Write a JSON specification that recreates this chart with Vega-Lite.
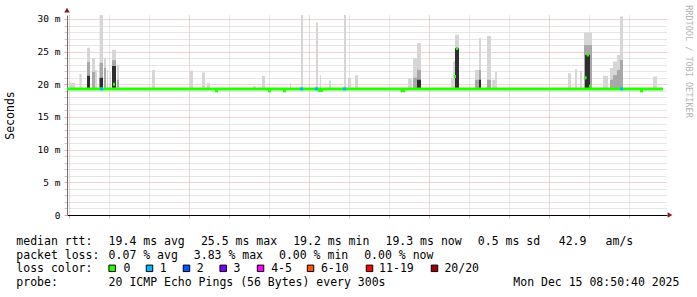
{
  "$schema": "https://vega.github.io/schema/vega-lite/v6.json",
  "autosize": {"type": "none"},
  "padding": {"left": 67, "top": 15, "right": 630, "bottom": 282},
  "background": "#ffffff",
  "config": {"view": {"stroke": null}},
  "datasets": {
    "smoke": [
      {"t0": 3.05, "t1": 3.3, "max": 20.25},
      {"t0": 3.52, "t1": 3.63, "max": 21.6},
      {"t0": 3.9, "t1": 4.05, "max": 25.6, "mid": 23.4, "dk": 21.3},
      {"t0": 4.15, "t1": 4.3, "max": 24.0, "mid": 21.9},
      {"t0": 4.3, "t1": 4.4, "max": 22.2},
      {"t0": 4.53, "t1": 4.7, "max": 31.0, "mid": 23.3, "dk": 21.0},
      {"t0": 4.75, "t1": 4.85, "max": 24.0, "mid": 22.5},
      {"t0": 4.9, "t1": 4.95, "max": 22.2},
      {"t0": 5.05, "t1": 5.1, "max": 21.9},
      {"t0": 5.15, "t1": 5.35, "max": 25.3, "mid": 23.7, "dk": 22.8},
      {"t0": 5.4, "t1": 5.5, "max": 23.0, "mid": 20.7},
      {"t0": 7.15, "t1": 7.3, "max": 22.2},
      {"t0": 9.05, "t1": 9.2, "max": 22.1},
      {"t0": 9.65, "t1": 9.8, "max": 21.8},
      {"t0": 9.9, "t1": 10.05, "max": 20.2},
      {"t0": 12.2, "t1": 12.35, "max": 19.75},
      {"t0": 12.65, "t1": 12.8, "max": 21.3},
      {"t0": 14.05, "t1": 14.1, "max": 20.2},
      {"t0": 14.6, "t1": 14.7, "max": 31.0},
      {"t0": 15.35, "t1": 15.45, "max": 29.5},
      {"t0": 15.55, "t1": 15.6, "max": 21.4},
      {"t0": 16.0, "t1": 16.1, "max": 20.6},
      {"t0": 16.75, "t1": 16.85, "max": 30.6},
      {"t0": 16.95, "t1": 17.1, "max": 21.0},
      {"t0": 17.3, "t1": 17.45, "max": 21.4},
      {"t0": 19.95, "t1": 20.15, "max": 20.9},
      {"t0": 20.2, "t1": 20.4, "max": 24.0, "mid": 21.0},
      {"t0": 20.4, "t1": 20.6, "max": 26.3, "mid": 22.2, "dk": 20.7},
      {"t0": 22.1, "t1": 22.2, "max": 21.0},
      {"t0": 22.2, "t1": 22.3, "max": 23.5},
      {"t0": 22.3, "t1": 22.5, "max": 27.6, "mid": 25.5, "dk": 25.5},
      {"t0": 23.3, "t1": 23.5, "max": 22.2, "mid": 20.7},
      {"t0": 23.5, "t1": 23.6, "max": 27.1, "mid": 22.2, "dk": 20.7},
      {"t0": 23.9, "t1": 24.1, "max": 27.4, "mid": 20.7},
      {"t0": 24.15, "t1": 24.3, "max": 20.7},
      {"t0": 24.3, "t1": 24.4, "max": 21.9},
      {"t0": 27.95, "t1": 28.1, "max": 21.7},
      {"t0": 28.3, "t1": 28.4, "max": 22.3},
      {"t0": 28.55, "t1": 28.65, "max": 22.1},
      {"t0": 28.75, "t1": 29.15, "max": 27.9, "mid": 26.0},
      {"t0": 28.8, "t1": 29.05, "max": 24.5, "dk": 24.5},
      {"t0": 29.7, "t1": 29.95, "max": 21.3},
      {"t0": 30.05, "t1": 30.2, "max": 22.5, "mid": 20.7},
      {"t0": 30.2, "t1": 30.4, "max": 23.5, "mid": 21.4},
      {"t0": 30.4, "t1": 30.55, "max": 24.5, "mid": 22.2},
      {"t0": 30.55, "t1": 30.7, "max": 30.4, "mid": 23.7},
      {"t0": 32.2, "t1": 32.4, "max": 21.2}
    ],
    "median": [
      {"t0": 2.9, "t1": 32.7, "m": 19.3, "loss": "0"},
      {"t0": 10.3, "t1": 10.45, "m": 19.0, "loss": "0"},
      {"t0": 12.95, "t1": 13.1, "m": 19.0, "loss": "0"},
      {"t0": 13.7, "t1": 13.85, "m": 19.0, "loss": "0"},
      {"t0": 15.45, "t1": 15.7, "m": 19.05, "loss": "0"},
      {"t0": 19.58, "t1": 19.8, "m": 19.0, "loss": "0"},
      {"t0": 31.55, "t1": 31.7, "m": 19.0, "loss": "0"},
      {"t0": 5.2, "t1": 5.3, "m": 20.0, "loss": "0"},
      {"t0": 22.25, "t1": 22.35, "m": 21.2, "loss": "0"},
      {"t0": 22.35, "t1": 22.45, "m": 25.5, "loss": "0"},
      {"t0": 28.78, "t1": 28.88, "m": 21.0, "loss": "0"},
      {"t0": 28.88, "t1": 29.0, "m": 24.5, "loss": "0"},
      {"t0": 29.0, "t1": 29.1, "m": 19.7, "loss": "0"},
      {"t0": 4.55, "t1": 4.7, "m": 19.3, "loss": "1"},
      {"t0": 14.55, "t1": 14.7, "m": 19.3, "loss": "1"},
      {"t0": 15.3, "t1": 15.45, "m": 19.3, "loss": "1"},
      {"t0": 16.7, "t1": 16.85, "m": 19.3, "loss": "1"},
      {"t0": 30.55, "t1": 30.7, "m": 19.3, "loss": "1"}
    ],
    "arrows": [
      {"t": 2.9, "v": 31.35, "dir": "up"},
      {"t": 33.05, "v": 0, "dir": "right"}
    ],
    "texts": [
      {"line": 1, "col": 0, "text": "median rtt:"},
      {"line": 1, "col": 13, "text": "19.4 ms avg"},
      {"line": 1, "col": 26, "text": "25.5 ms max"},
      {"line": 1, "col": 39, "text": "19.2 ms min"},
      {"line": 1, "col": 52, "text": "19.3 ms now"},
      {"line": 1, "col": 65, "text": "0.5 ms sd"},
      {"line": 1, "col": 76.4, "text": "42.9"},
      {"line": 1, "col": 83, "text": "am/s"},
      {"line": 2, "col": 0, "text": "packet loss:"},
      {"line": 2, "col": 13, "text": "0.07 % avg"},
      {"line": 2, "col": 25, "text": "3.83 % max"},
      {"line": 2, "col": 37, "text": "0.00 % min"},
      {"line": 2, "col": 49, "text": "0.00 % now"},
      {"line": 3, "col": 0, "text": "loss color:"},
      {"line": 3, "col": 15.1, "text": "0"},
      {"line": 3, "col": 20.2, "text": "1"},
      {"line": 3, "col": 25.4, "text": "2"},
      {"line": 3, "col": 30.6, "text": "3"},
      {"line": 3, "col": 35.9, "text": "4-5"},
      {"line": 3, "col": 42.9, "text": "6-10"},
      {"line": 3, "col": 51.1, "text": "11-19"},
      {"line": 3, "col": 60.3, "text": "20/20"},
      {"line": 4, "col": 0, "text": "probe:"},
      {"line": 4, "col": 13, "text": "20 ICMP Echo Pings (56 Bytes) every 300s"},
      {"line": 4, "col": 70, "text": "Mon Dec 15 08:50:40 2025"}
    ],
    "swatches": [
      {"line": 3, "col": 13.5, "loss": "0"},
      {"line": 3, "col": 18.76, "loss": "1"},
      {"line": 3, "col": 23.97, "loss": "2"},
      {"line": 3, "col": 29.14, "loss": "3"},
      {"line": 3, "col": 34.4, "loss": "4-5"},
      {"line": 3, "col": 41.44, "loss": "6-10"},
      {"line": 3, "col": 49.75, "loss": "11-19"},
      {"line": 3, "col": 58.9, "loss": "20/20"}
    ]
  },
  "bounds": "flush",
  "spacing": 15,
  "vconcat": [
    {
      "width": 600,
      "height": 200,
      "layer": [
        {
          "data": {"name": "smoke"},
          "mark": {"type": "rect", "color": "#d6d6d6", "clip": true},
          "encoding": {
            "x": {
              "field": "t0", "type": "quantitative",
              "scale": {"domain": [2.9, 32.9], "nice": false, "zero": false},
              "axis": {
                "values": [3,4,5,6,7,8,9,10,11,12,13,14,15,16,17,18,19,20,21,22,23,24,25,26,27,28,29,30,31,32],
                "grid": true,
                "gridDash": [1, 1],
                "gridColor": {"condition": {"test": "datum.value % 3 === 0", "value": "#e4a6a6"}, "value": "#cccccc"},
                "domainColor": "#000000",
                "tickSize": 3,
                "tickColor": {"condition": {"test": "datum.value % 3 === 0", "value": "#e4a6a6"}, "value": "#cccccc"},
                "labelExpr": "datum.value % 6 === 0 ? ((datum.value < 24 ? 'Sun ' : 'Mon ') + (datum.value % 24 < 10 ? '0' : '') + (datum.value % 24) + ':00') : ''",
                "labelFont": "DejaVu Sans Mono",
                "labelFontSize": 9.5,
                "labelColor": "#000000",
                "labelPadding": 2,
                "labelOverlap": false,
                "labelFlush": false,
                "title": null
              }
            },
            "x2": {"field": "t1"},
            "y": {
              "field": "max", "type": "quantitative",
              "scale": {"domain": [0, 30.61], "nice": false, "zero": false},
              "axis": {
                "values": [0,1,2,3,4,5,6,7,8,9,10,11,12,13,14,15,16,17,18,19,20,21,22,23,24,25,26,27,28,29,30],
                "grid": true,
                "gridDash": [1, 1],
                "gridColor": {"condition": {"test": "datum.value % 5 === 0", "value": "#e4a6a6"}, "value": "#cccccc"},
                "domainColor": "#707070",
                "tickSize": 3,
                "tickColor": {"condition": {"test": "datum.value % 5 === 0", "value": "#e4a6a6"}, "value": "#cccccc"},
                "labelExpr": "datum.value % 5 === 0 ? (datum.value === 0 ? '0' : datum.value + ' m') : ''",
                "labelFont": "DejaVu Sans Mono",
                "labelFontSize": 9.5,
                "labelColor": "#000000",
                "labelPadding": 4,
                "labelOverlap": false,
                "labelFlush": false,
                "title": "Seconds",
                "titleFont": "DejaVu Sans Mono",
                "titleFontSize": 11.5,
                "titleFontWeight": "normal",
                "titleColor": "#000000",
                "titlePadding": 22
              }
            },
            "y2": {"datum": 19.3}
          }
        },
        {
          "data": {"name": "smoke"},
          "transform": [{"filter": "isValid(datum.mid)"}],
          "mark": {"type": "rect", "color": "#a8a8a8", "clip": true},
          "encoding": {
            "x": {"field": "t0", "type": "quantitative", "scale": {"domain": [2.9, 32.9], "nice": false, "zero": false}},
            "x2": {"field": "t1"},
            "y": {"field": "mid", "type": "quantitative", "scale": {"domain": [0, 30.61], "nice": false, "zero": false}, "axis": null},
            "y2": {"datum": 19.3}
          }
        },
        {
          "data": {"name": "smoke"},
          "transform": [{"filter": "isValid(datum.dk)"}],
          "mark": {"type": "rect", "color": "#2e2e2e", "clip": true},
          "encoding": {
            "x": {"field": "t0", "type": "quantitative", "scale": {"domain": [2.9, 32.9], "nice": false, "zero": false}},
            "x2": {"field": "t1"},
            "y": {"field": "dk", "type": "quantitative", "scale": {"domain": [0, 30.61], "nice": false, "zero": false}, "axis": null},
            "y2": {"datum": 19.3}
          }
        },
        {
          "data": {"name": "median"},
          "mark": {"type": "rule", "strokeWidth": 3, "strokeCap": "butt", "clip": true},
          "encoding": {
            "x": {"field": "t0", "type": "quantitative", "scale": {"domain": [2.9, 32.9], "nice": false, "zero": false}},
            "x2": {"field": "t1"},
            "y": {
              "field": "m", "type": "quantitative",
              "scale": {"domain": [0, 30.61], "nice": false, "zero": false},
              "axis": {
                "orient": "right",
                "domain": false, "ticks": false, "labels": false, "grid": false,
                "title": "RRDTOOL / TOBI OETIKER",
                "titleAngle": 90,
                "titleFont": "DejaVu Sans Mono",
                "titleFontSize": 8.5,
                "titleFontWeight": "normal",
                "titleColor": "#b4b4b4",
                "titleX": 21,
                "titleY": 46,
                "titleAlign": "center",
                "titleBaseline": "middle"
              }
            },
            "color": {
              "field": "loss", "type": "nominal",
              "scale": {"domain": ["0","1","2","3","4-5","6-10","11-19","20/20"], "range": ["#26ff00","#00b8ff","#0059ff","#7e00ff","#ff00ff","#ff5500","#ff0000","#a10000"]},
              "legend": null
            }
          }
        },
        {
          "data": {"name": "arrows"},
          "mark": {"type": "point", "filled": true, "color": "#8b1a1a", "opacity": 1, "size": 30, "clip": false},
          "encoding": {
            "x": {"field": "t", "type": "quantitative", "scale": {"domain": [2.9, 32.9], "nice": false, "zero": false}},
            "y": {"field": "v", "type": "quantitative", "scale": {"domain": [0, 30.61], "nice": false, "zero": false}, "axis": null},
            "shape": {"field": "dir", "type": "nominal", "scale": {"domain": ["up", "right"], "range": ["triangle-up", "triangle-right"]}, "legend": null}
          }
        }
      ],
      "resolve": {"axis": {"y": "independent"}}
    },
    {
      "width": 600,
      "height": 56,
      "layer": [
        {
          "data": {"name": "texts"},
          "mark": {"type": "text", "align": "left", "baseline": "alphabetic", "font": "DejaVu Sans Mono", "fontSize": 11.5, "color": "#000000"},
          "encoding": {
            "x": {"field": "col", "type": "quantitative", "scale": {"domain": [7.14, 91.65], "nice": false, "zero": false}, "axis": null},
            "y": {"field": "line", "type": "quantitative", "scale": {"domain": [-0.1, 4], "reverse": true, "nice": false, "zero": false}, "axis": null},
            "text": {"field": "text"}
          }
        },
        {
          "data": {"name": "swatches"},
          "mark": {"type": "point", "shape": "square", "filled": true, "size": 42, "stroke": "#000000", "strokeWidth": 1, "opacity": 1, "yOffset": -4},
          "encoding": {
            "x": {"field": "col", "type": "quantitative", "scale": {"domain": [7.14, 91.65], "nice": false, "zero": false}, "axis": null},
            "y": {"field": "line", "type": "quantitative", "scale": {"domain": [-0.1, 4], "reverse": true, "nice": false, "zero": false}, "axis": null},
            "color": {
              "field": "loss", "type": "nominal",
              "scale": {"domain": ["0","1","2","3","4-5","6-10","11-19","20/20"], "range": ["#26ff00","#00b8ff","#0059ff","#7e00ff","#ff00ff","#ff5500","#ff0000","#a10000"]},
              "legend": null
            }
          }
        }
      ]
    }
  ]
}
